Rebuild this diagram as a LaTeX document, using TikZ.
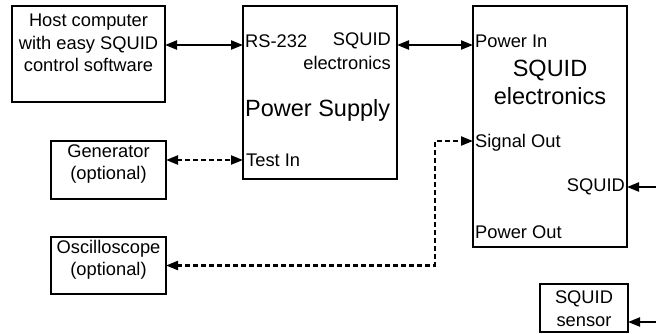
\documentclass[tikz,border=0pt]{standalone}
\usepackage{fontspec}
\setmainfont{Liberation Sans}
\usetikzlibrary{arrows.meta}
\begin{document}
\begin{tikzpicture}[x=1pt,y=-1pt,
 box/.style={draw, line width=2.6pt, inner sep=0pt, outer sep=0pt},
 sm/.style={font=\fontsize{18.3}{22.5}\selectfont, inner sep=0pt, align=center},
 lg/.style={font=\fontsize{23.5}{28}\selectfont, inner sep=0pt, align=center},
 conn/.style={line width=2.2pt, -{Triangle[length=12pt,width=9pt]}},
 bconn/.style={line width=2.2pt, {Triangle[length=12pt,width=9pt]}-{Triangle[length=12pt,width=9pt]}},
 dsh/.style={dash pattern=on 5pt off 3pt}]
\useasboundingbox (0,0) rectangle (656,333);
% boxes
\node[box, minimum width=153pt, minimum height=96pt] (host) at (88.5,54) {};
\node[box, minimum width=154pt, minimum height=173pt] (ps) at (320,92.5) {};
\node[box, minimum width=154pt, minimum height=241pt] (sqe) at (550,126.5) {};
\node[box, minimum width=115pt, minimum height=58pt] (gen) at (108.5,170) {};
\node[box, minimum width=115pt, minimum height=57pt] (osc) at (108.5,265.5) {};
\node[box, minimum width=88pt, minimum height=48pt] (sens) at (584,308) {};
% texts
\node[sm] (hosttxt) at (88.5,43) {Host computer\\with easy SQUID\\control software};
\node[sm, anchor=west] (rs) at (245,41) {RS-232};
\node[sm, anchor=east] (pssq) at (391,41) {SQUID};
\node[sm, anchor=east] (psel) at (391,63) {electronics};
\node[lg, anchor=west] (pstitle) at (245,110) {Power Supply};
\node[sm, anchor=west] (testin) at (246,160) {Test In};
\node[sm, anchor=west] (pin) at (475,41) {Power In};
\node[lg] (sqetitle) at (550,82) {SQUID\\electronics};
\node[sm, anchor=west] (sig) at (475,143) {Signal Out};
\node[sm, anchor=east] (sqport) at (625,187) {SQUID};
\node[sm, anchor=west] (pout) at (475,232) {Power Out};
\node[sm] (gentxt) at (108.5,164) {Generator\\(optional)};
\node[sm] (osctxt) at (108.5,260) {Oscilloscope\\(optional)};
\node[sm] (senstxt) at (584,308.5) {SQUID\\sensor};
% connectors
\coordinate (a1) at (0,45);
\draw[bconn] (host.east |- a1) -- (ps.west |- a1);
\draw[bconn] (ps.east |- a1) -- (sqe.west |- a1);
\coordinate (a2) at (0,160);
\draw[bconn, dsh] (gen.east |- a2) -- (ps.west |- a2);
\coordinate (k) at (435,141);
\draw[bconn, dsh] (osc.east) -| (k) -- (sqe.west |- k);
\coordinate (r1) at (656,187);
\draw[conn] (r1) -- (sqe.east |- r1);
\coordinate (r2) at (656,322);
\draw[conn] (r2) -- (sens.east |- r2);
\end{tikzpicture}
\end{document}
